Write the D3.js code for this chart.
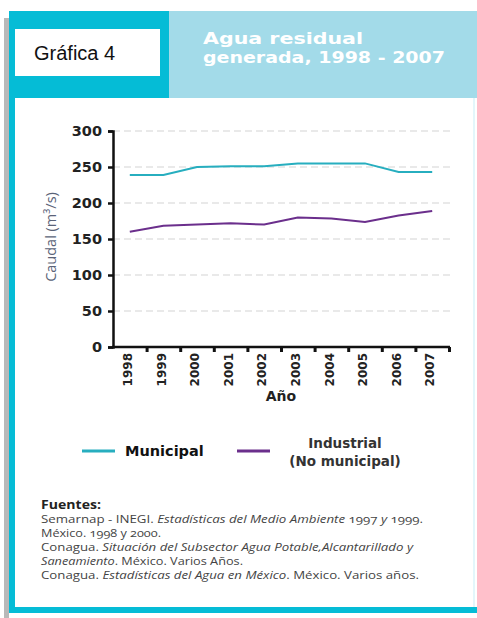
<!DOCTYPE html>
<html>
<head>
<meta charset="utf-8">
<script src="https://cdn.jsdelivr.net/npm/d3@7"></script>
<style>
  body { margin: 0; background: #fff; }
  svg text { font-family: "Open Sans", sans-serif; }
  .wide { font-family: "DejaVu Sans", sans-serif; }
  .num { font-variant-numeric: oldstyle-nums; font-feature-settings: "onum"; }
</style>
</head>
<body>
<svg id="chart" width="477" height="618"></svg>
<script>
// data
var years = ["1998","1999","2000","2001","2002","2003","2004","2005","2006","2007"];
var municipal = [239, 239, 250, 251, 251, 255, 255, 255, 243, 243];
var industrial = [160, 168.5, 170, 172, 170, 180, 178.5, 173.5, 182.5, 189];
var yTicks = [0, 50, 100, 150, 200, 250, 300];
var seriesNames = ["Municipal", "Industrial|(No municipal)"];
var seriesColors = ["#27aebf", "#6b2f8c"];

var svg = d3.select("#chart");

// ---- frame / header ----
svg.append("rect").attr("x", 4).attr("y", 18).attr("width", 5).attr("height", 600).style("fill", "#b9b9b9");
svg.append("rect").attr("x", 9).attr("y", 11).attr("width", 468).attr("height", 602).style("fill", "#fff");
svg.append("rect").attr("x", 9).attr("y", 11).attr("width", 160).attr("height", 87).style("fill", "#05bcd6");
svg.append("rect").attr("x", 169).attr("y", 11).attr("width", 308).attr("height", 87).style("fill", "#a3dbe9");
svg.append("rect").attr("x", 9).attr("y", 98).attr("width", 6).attr("height", 515).style("fill", "#05bcd6");
svg.append("rect").attr("x", 9).attr("y", 607).attr("width", 468).attr("height", 6).style("fill", "#05bcd6");
svg.append("rect").attr("x", 473).attr("y", 98).attr("width", 2).attr("height", 509).style("fill", "#e3f6fb");

svg.append("rect").attr("x", 15).attr("y", 29).attr("width", 145).attr("height", 47).style("fill", "#fff");
svg.append("text").attr("x", 34).attr("y", 60)
  .style("font-family", "'Liberation Sans', Arial, sans-serif").style("font-size", "20px").style("fill", "#111")
  .text("Gráfica 4");

var title = svg.append("text").attr("class", "wide").style("fill", "#fff").style("font-weight", "bold").style("font-size", "15px");
title.append("tspan").attr("x", 203).attr("y", 44).attr("textLength", 160).attr("lengthAdjust", "spacingAndGlyphs").text("Agua residual");
title.append("tspan").attr("x", 203).attr("y", 63).attr("textLength", 242).attr("lengthAdjust", "spacingAndGlyphs").text("generada, 1998 - 2007");

// ---- chart ----
var margin = {left: 113, top: 131, right: 28, bottom: 271};
var width = 477 - margin.left - margin.right,
    height = 618 - margin.top - margin.bottom;

var g = svg.append("g").attr("transform", "translate(" + margin.left + "," + margin.top + ")");

var x = d3.scaleBand().domain(years).range([0, width]).padding(0);
var xIdx = d3.scaleLinear().domain([0, years.length]).range([0, width]);
var y = d3.scaleLinear().domain([0, 300]).range([height, 0]);

// grid
g.selectAll(".grid").data(yTicks.filter(function (d) { return d > 0; })).enter()
  .append("line")
  .attr("x1", 0).attr("x2", width + 2)
  .attr("y1", function (d) { return y(d); }).attr("y2", function (d) { return y(d); })
  .style("stroke", "#d3d3d3").style("stroke-width", 1.2).style("stroke-dasharray", "7,4");

// y axis
var yAxis = g.append("g").call(d3.axisLeft(y).tickValues(yTicks).tickSize(5).tickPadding(6));
yAxis.select(".domain").style("stroke", "#111").style("stroke-width", 2.5);
yAxis.selectAll(".tick line").style("stroke", "#111").style("stroke-width", 2.5);
yAxis.selectAll("text").attr("class", "wide").style("font-size", "14.5px").style("font-weight", "bold").style("fill", "#222");

// x axis: boundary ticks
var xAxis = g.append("g").attr("transform", "translate(0," + height + ")")
  .call(d3.axisBottom(xIdx).tickValues(d3.range(1, years.length + 1)).tickSize(5).tickFormat(""));
xAxis.select(".domain").attr("d", "M-1,0H" + (width + 1)).style("stroke", "#111").style("stroke-width", 2.5);
xAxis.selectAll(".tick line").style("stroke", "#111").style("stroke-width", 3);

// x labels
var xLab = g.append("g").attr("transform", "translate(0," + height + ")")
  .call(d3.axisBottom(x).tickSize(0).tickPadding(0));
xLab.select(".domain").remove();
xLab.selectAll("text").attr("class", "wide")
  .attr("transform", "rotate(-90)").attr("x", -6).attr("y", -2).attr("dy", "0.35em")
  .style("text-anchor", "end").style("font-size", "12px").style("font-weight", "bold").style("fill", "#222");

g.append("text").attr("class", "wide").attr("x", width / 2).attr("y", height + 54)
  .style("text-anchor", "middle").style("font-size", "14px").style("font-weight", "bold").style("fill", "#222")
  .text("Año");

g.append("text").attr("transform", "translate(" + (-57) + "," + (height / 2 - 2) + ")rotate(-90)")
  .style("text-anchor", "middle").style("font-size", "14.5px").style("fill", "#5a6378")
  .text("Caudal (m³/s)");

// lines
var line = d3.line()
  .x(function (d, i) { return x(years[i]) + x.bandwidth() / 2; })
  .y(function (d) { return y(d); });

[municipal, industrial].forEach(function (s, i) {
  g.append("path").datum(s).attr("d", line)
    .style("fill", "none").style("stroke", seriesColors[i]).style("stroke-width", 2);
});

// legend
var legX = [82, 237];
seriesNames.forEach(function (name, i) {
  var lg = svg.append("g");
  lg.append("line").attr("x1", legX[i]).attr("x2", legX[i] + 33).attr("y1", 451).attr("y2", 451)
    .style("stroke", seriesColors[i]).style("stroke-width", 3);
  var parts = name.split("|");
  if (parts.length === 1) {
    lg.append("text").attr("class", "wide").attr("x", 125).attr("y", 456)
      .style("font-size", "14.5px").style("font-weight", "bold").style("fill", "#111").text(parts[0]);
  } else {
    var t = lg.append("text").attr("class", "wide").style("font-size", "13.5px").style("font-weight", "bold").style("fill", "#333")
      .style("text-anchor", "middle");
    t.append("tspan").attr("x", 345).attr("y", 448).text(parts[0]);
    t.append("tspan").attr("x", 345).attr("y", 466).text(parts[1]);
  }
});

// sources
var sources = [
  [["Fuentes:", "b"]],
  [["Semarnap - INEGI. ", "n"], ["Estadísticas del Medio Ambiente", "i"], [" 1997 ", "n"], ["y", "i"], [" 1999.", "n"]],
  [["México. 1998 y 2000.", "n"]],
  [["Conagua. ", "n"], ["Situación del Subsector Agua Potable,Alcantarillado y", "i"]],
  [["Saneamiento", "i"], [". México. Varios Años.", "n"]],
  [["Conagua. ", "n"], ["Estadísticas del Agua en México", "i"], [". México. Varios años.", "n"]]
];
var srcLen = [60, 382, 120, 372, 202, 378];
var srcY = [509, 523, 537, 551, 565, 579];

sources.forEach(function (parts, i) {
  var t = svg.append("text").attr("x", 41).attr("y", srcY[i]).attr("class", "num")
    .attr("textLength", srcLen[i]).attr("lengthAdjust", "spacingAndGlyphs")
    .style("font-size", "11.5px").style("fill", i === 0 ? "#222" : "#444");
  parts.forEach(function (p) {
    t.append("tspan").text(p[0])
      .style("font-weight", p[1] === "b" ? "bold" : "normal")
      .style("font-style", p[1] === "i" ? "italic" : "normal");
  });
});
</script>
</body>
</html>
